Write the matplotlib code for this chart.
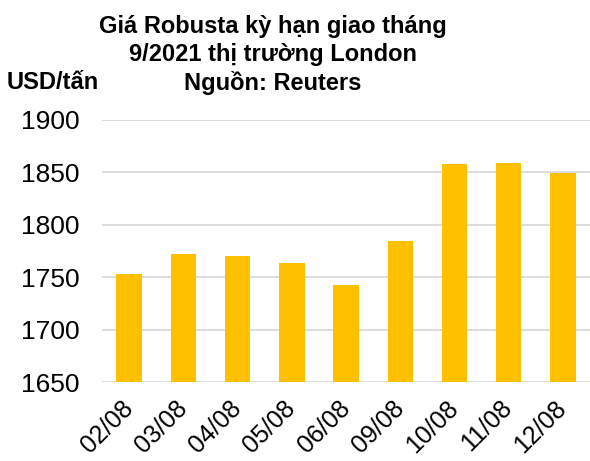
import numpy as np
import matplotlib
matplotlib.use('Agg')
import matplotlib.pyplot as plt

plt.rcParams['font.family'] = ['Liberation Sans', 'DejaVu Sans']

dates = ['02/08', '03/08', '04/08', '05/08', '06/08', '09/08', '10/08', '11/08', '12/08']
prices = [1753, 1772, 1770, 1764, 1743, 1785, 1858, 1859, 1849]
yticks = [1650, 1700, 1750, 1800, 1850, 1900]

fig = plt.figure(figsize=(5.9, 4.61), dpi=100)
ax = fig.add_axes([0.173, 0.171, 0.827, 0.569])

x = np.arange(len(dates))
ax.bar(x, prices, width=0.47, color='#FFC000', zorder=3)

ax.set_ylim(1650, 1900)
ax.set_xlim(-0.5, len(dates) - 0.5)
ax.set_yticks(yticks)
ax.set_xticks(x)
ax.set_xticklabels(dates, rotation=45, ha='right', va='center', rotation_mode='anchor')
ax.tick_params(axis='y', length=0, labelsize=19, colors='black', pad=16)
ax.tick_params(axis='x', length=0, labelsize=18, colors='black', pad=16)
ax.grid(axis='y', color='#D9D9D9', linewidth=1.3, zorder=0)
for s in ax.spines.values():
    s.set_visible(False)

fig.text(0.463, 0.968, 'Giá Robusta kỳ hạn giao tháng\n9/2021 thị trường London\nNguồn: Reuters',
         ha='center', va='top', fontsize=17, fontweight='bold', linespacing=1.28)
fig.text(0.012, 0.822, 'USD/tấn', ha='left', va='center', fontsize=17, fontweight='bold')

fig.savefig('out.png', dpi=100)
